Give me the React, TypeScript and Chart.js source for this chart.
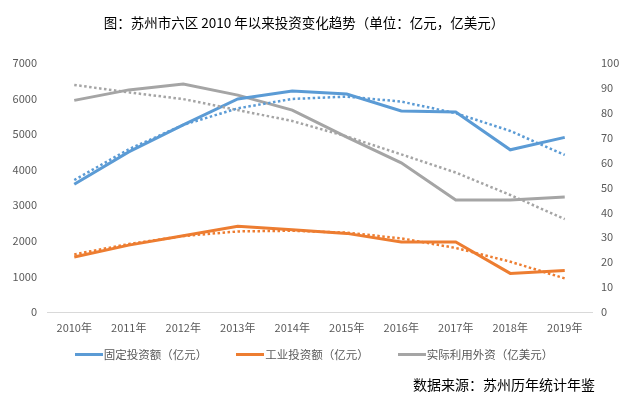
import React, { useEffect, useRef } from "react";
import { Chart, registerables } from "chart.js";

Chart.register(...registerables);

const categories = ["2010年", "2011年", "2012年", "2013年", "2014年", "2015年", "2016年", "2017年", "2018年", "2019年"];
const fixedInvestment = [3590, 4500, 5260, 5990, 6210, 6130, 5650, 5620, 4560, 4910];
const industrialInvestment = [1545, 1880, 2145, 2410, 2310, 2210, 1965, 1970, 1085, 1170];
const foreignCapital = [85.0, 89.2, 91.6, 87.1, 81.1, 70.2, 59.9, 45.0, 45.0, 46.2];
const fixedTrend = [3710, 4575, 5260, 5725, 5990, 6055, 5915, 5590, 5090, 4415];
const industrialTrend = [1620, 1910, 2135, 2265, 2285, 2230, 2070, 1800, 1415, 945];
const foreignTrend = [91.2, 88.2, 85.5, 81.1, 76.7, 70.5, 63.3, 56.0, 47.0, 37.3];

const seriesNames = ["固定投资额（亿元）", "工业投资额（亿元）", "实际利用外资（亿美元）"];
const colors = ["#5B9BD5", "#ED7D31", "#A5A5A5"];
const titleText = "图：苏州市六区 2010 年以来投资变化趋势（单位：亿元，亿美元）";
const sourceText = "数据来源：苏州历年统计年鉴";

const FONT = "'Noto Sans CJK SC', 'Noto Sans', sans-serif";

export default function App() {
  const ref = useRef<HTMLCanvasElement | null>(null);

  useEffect(() => {
    if (!ref.current) return;
    const solid = (label: string, data: number[], color: string, axis: string) => ({
      label,
      data,
      borderColor: color,
      backgroundColor: color,
      borderWidth: 3,
      pointRadius: 0,
      tension: 0,
      yAxisID: axis,
      order: 2,
    });
    const dotted = (label: string, data: number[], color: string, axis: string) => ({
      label,
      data,
      borderColor: color,
      backgroundColor: color,
      borderWidth: 2.5,
      borderDash: [2.5, 2.5],
      pointRadius: 0,
      tension: 0,
      yAxisID: axis,
      order: 1,
    });
    const plain = (v: any) => String(v);
    const chart = new Chart(ref.current, {
      type: "line",
      data: {
        labels: categories,
        datasets: [
          solid(seriesNames[0], fixedInvestment, colors[0], "y"),
          solid(seriesNames[1], industrialInvestment, colors[1], "y"),
          solid(seriesNames[2], foreignCapital, colors[2], "y1"),
          dotted("趋势1", fixedTrend, colors[0], "y"),
          dotted("趋势2", industrialTrend, colors[1], "y"),
          dotted("趋势3", foreignTrend, colors[2], "y1"),
        ],
      },
      options: {
        animation: false,
        responsive: false,
        maintainAspectRatio: false,
        layout: { padding: { top: 63, left: 0, right: 0, bottom: 0 } },
        plugins: {
          legend: { display: false },
          title: { display: false },
          tooltip: { enabled: false },
        },
        scales: {
          x: {
            type: "category",
            offset: true,
            grid: { display: false, drawTicks: false },
            border: { display: true, color: "#D9D9D9", width: 1 },
            ticks: {
              color: "#595959",
              font: { family: FONT, size: 11 },
              padding: 9,
              maxRotation: 0,
              autoSkip: false,
            },
            afterFit: (s: any) => {
              s.height = 83;
            },
          },
          y: {
            position: "left",
            min: 0,
            max: 7000,
            grid: { display: false, drawTicks: false },
            border: { display: false },
            ticks: {
              stepSize: 1000,
              color: "#595959",
              font: { family: FONT, size: 11 },
              padding: 10,
              callback: plain,
            },
            afterFit: (s: any) => {
              s.width = 47;
            },
          },
          y1: {
            position: "right",
            min: 0,
            max: 100,
            grid: { display: false, drawTicks: false },
            border: { display: false },
            ticks: {
              stepSize: 10,
              color: "#595959",
              font: { family: FONT, size: 11 },
              padding: 9,
              callback: plain,
            },
            afterFit: (s: any) => {
              s.width = 35;
            },
          },
        },
      },
    } as any);
    return () => chart.destroy();
  }, []);

  return (
    <div style={{ position: "fixed", left: 0, top: 0, width: 627, height: 395, background: "#fff", fontFamily: FONT }}>
      <canvas ref={ref} width={627} height={395} style={{ position: "absolute", left: 0, top: 0, width: 627, height: 395 }} />
      <div
        style={{
          position: "absolute",
          left: 0,
          width: 608,
          top: 13,
          textAlign: "center",
          fontSize: 13.5,
          lineHeight: "18px",
          color: "#000",
          whiteSpace: "nowrap",
        }}
      >
        {titleText}
      </div>
      <div
        style={{
          position: "absolute",
          left: 0,
          width: 628,
          top: 346,
          display: "flex",
          justifyContent: "center",
          alignItems: "center",
          fontSize: 11.5,
          lineHeight: "16px",
          color: "#595959",
          whiteSpace: "nowrap",
        }}
      >
        {seriesNames.map((n, i) => (
          <div key={n} style={{ display: "flex", alignItems: "center", marginLeft: i === 0 ? 0 : 29 }}>
            <span style={{ display: "inline-block", width: 28, height: 3, background: colors[i], marginRight: 1 }} />
            <span>{n}</span>
          </div>
        ))}
      </div>
      <div
        style={{
          position: "absolute",
          left: 413,
          top: 376,
          fontSize: 14,
          lineHeight: "16px",
          color: "#000",
          whiteSpace: "nowrap",
        }}
      >
        {sourceText}
      </div>
    </div>
  );
}
